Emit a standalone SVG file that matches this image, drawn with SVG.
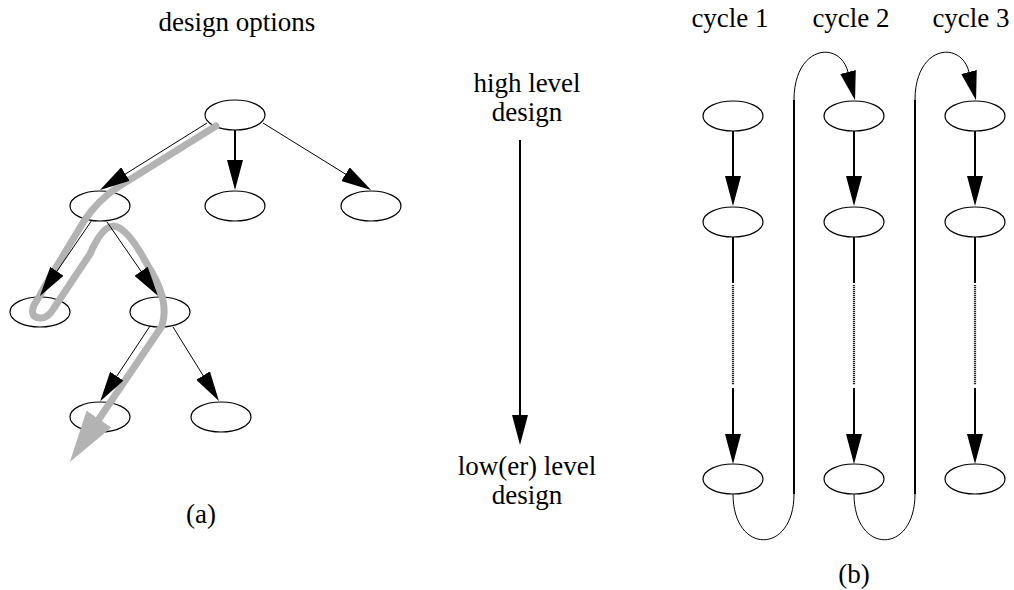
<svg xmlns="http://www.w3.org/2000/svg" width="1014" height="590" viewBox="0 0 1014 590">
  <style>
    .lbl { font-family: "Liberation Serif", "Times New Roman", serif; font-size: 27px; fill: #000; text-anchor: middle; }
    .node { fill: #fff; stroke: #000; stroke-width: 1.2; }
    .thin { fill: none; stroke: #000; stroke-width: 1; }
    .thick { fill: none; stroke: #000; stroke-width: 2; }
    .dots { fill: none; stroke: #222; stroke-width: 2.2; stroke-dasharray: 1.2 0.8; }
    .path { fill: none; stroke: #b3b3b3; stroke-width: 7; stroke-linejoin: round; stroke-linecap: round; }
  </style>
  <defs>
    <!-- solid black arrowhead; line stops 5px short of the tip -->
    <marker id="ah" viewBox="0 0 30 16" markerWidth="30" markerHeight="16" refX="25" refY="8" orient="auto" markerUnits="userSpaceOnUse">
      <path d="M0,0 L30,8 L0,16 z" fill="#000"/>
    </marker>
    <!-- arrowhead placed with its base on the end of a curve -->
    <marker id="ahc" viewBox="0 0 29 16" markerWidth="29" markerHeight="16" refX="0" refY="8" orient="auto" markerUnits="userSpaceOnUse">
      <path d="M0,0 L29,8 L0,16 z" fill="#000"/>
    </marker>
    <!-- wide grey arrowhead for the search path -->
    <marker id="ahg" viewBox="0 0 52 30" markerWidth="52" markerHeight="30" refX="0" refY="15" orient="auto" markerUnits="userSpaceOnUse">
      <path d="M0,0 L52,15 L0,30 z" fill="#b3b3b3"/>
    </marker>
  </defs>

  <!-- labels -->
  <g id="labels">
    <text class="lbl" x="237" y="31">design options</text>
    <text class="lbl" x="201" y="523">(a)</text>
    <text class="lbl" x="527" y="92">high level</text>
    <text class="lbl" x="527" y="121">design</text>
    <text class="lbl" x="527" y="475">low(er) level</text>
    <text class="lbl" x="527" y="504">design</text>
    <text class="lbl" x="730" y="27">cycle 1</text>
    <text class="lbl" x="851" y="27">cycle 2</text>
    <text class="lbl" x="971" y="27">cycle 3</text>
    <text class="lbl" x="854" y="583">(b)</text>
  </g>

  <!-- tree (a) nodes -->
  <g id="tree-root"><ellipse class="node" cx="235" cy="115" rx="30" ry="15"/></g>
  <g id="tree-l1a"><ellipse class="node" cx="100" cy="206" rx="30" ry="15"/></g>
  <g id="tree-l1b"><ellipse class="node" cx="235" cy="206" rx="30" ry="15"/></g>
  <g id="tree-l1c"><ellipse class="node" cx="371" cy="206" rx="30" ry="15"/></g>
  <g id="tree-l2a"><ellipse class="node" cx="40" cy="312" rx="30" ry="15"/></g>
  <g id="tree-l2b"><ellipse class="node" cx="160" cy="312" rx="30" ry="15"/></g>
  <g id="tree-l3a"><ellipse class="node" cx="100" cy="417" rx="30" ry="15"/></g>
  <g id="tree-l3b"><ellipse class="node" cx="221" cy="417" rx="30" ry="15"/></g>

  <!-- cycle (b) nodes -->
  <g id="c1-n1"><ellipse class="node" cx="733" cy="116" rx="30" ry="15"/></g>
  <g id="c1-n2"><ellipse class="node" cx="733" cy="222" rx="30" ry="15"/></g>
  <g id="c1-n3"><ellipse class="node" cx="733" cy="479" rx="30" ry="15"/></g>
  <g id="c2-n1"><ellipse class="node" cx="854" cy="116" rx="30" ry="15"/></g>
  <g id="c2-n2"><ellipse class="node" cx="854" cy="222" rx="30" ry="15"/></g>
  <g id="c2-n3"><ellipse class="node" cx="854" cy="479" rx="30" ry="15"/></g>
  <g id="c3-n1"><ellipse class="node" cx="975" cy="116" rx="30" ry="15"/></g>
  <g id="c3-n2"><ellipse class="node" cx="975" cy="222" rx="30" ry="15"/></g>
  <g id="c3-n3"><ellipse class="node" cx="975" cy="479" rx="30" ry="15"/></g>

  <!-- grey exploration path through the option tree, drawn over the nodes -->
  <g id="search-path">
    <path class="path" marker-end="url(#ahg)" d="M216,126 L118,187 Q98,200 84,221 L46,284 Q40,296 34,305 Q29,318 41,318 Q48,318 54,308 L90,254 Q102,226 114,226 Q128,228 148,266 Q170,300 162,326 L99,419"/>
  </g>

  <g id="connectors">
    <!-- tree edges -->
    <line class="thin" x1="207" y1="123" x2="104.2" y2="187.3" marker-end="url(#ah)"/>
    <line class="thick" x1="235" y1="130" x2="235" y2="185" marker-end="url(#ah)"/>
    <line class="thin" x1="263" y1="123" x2="366.8" y2="187.3" marker-end="url(#ah)"/>
    <line class="thin" x1="92" y1="220" x2="42.8" y2="291.9" marker-end="url(#ah)"/>
    <line class="thin" x1="107" y1="222" x2="155.3" y2="291.8" marker-end="url(#ah)"/>
    <line class="thin" x1="150" y1="326" x2="103" y2="397" marker-end="url(#ah)"/>
    <line class="thin" x1="173" y1="327" x2="216.3" y2="396.8" marker-end="url(#ah)"/>

    <!-- level-of-design axis -->
    <line class="thick" x1="520" y1="140" x2="520" y2="440" marker-end="url(#ah)"/>

    <!-- cycle columns -->
    <line class="thick" x1="733" y1="131" x2="733" y2="201" marker-end="url(#ah)"/>
    <line class="thick" x1="733" y1="237" x2="733" y2="283"/>
    <line class="dots" x1="733" y1="285" x2="733" y2="385"/>
    <line class="thick" x1="733" y1="388" x2="733" y2="459" marker-end="url(#ah)"/>

    <line class="thick" x1="854" y1="131" x2="854" y2="201" marker-end="url(#ah)"/>
    <line class="thick" x1="854" y1="237" x2="854" y2="283"/>
    <line class="dots" x1="854" y1="285" x2="854" y2="385"/>
    <line class="thick" x1="854" y1="388" x2="854" y2="459" marker-end="url(#ah)"/>

    <line class="thick" x1="975" y1="131" x2="975" y2="201" marker-end="url(#ah)"/>
    <line class="thick" x1="975" y1="237" x2="975" y2="283"/>
    <line class="dots" x1="975" y1="285" x2="975" y2="385"/>
    <line class="thick" x1="975" y1="388" x2="975" y2="459" marker-end="url(#ah)"/>

    <!-- hand-over from cycle 1 to cycle 2 -->
    <path class="thin" d="M733,494 C733,555 794,555 794,494"/>
    <line class="thick" x1="794" y1="494" x2="794" y2="100"/>
    <path class="thin" d="M794,100 C794,45 840,40 848,72" marker-end="url(#ahc)"/>

    <!-- hand-over from cycle 2 to cycle 3 -->
    <path class="thin" d="M854,494 C854,555 915,555 915,494"/>
    <line class="thick" x1="915" y1="494" x2="915" y2="100"/>
    <path class="thin" d="M915,100 C915,45 961,40 969,72" marker-end="url(#ahc)"/>
  </g>
</svg>
